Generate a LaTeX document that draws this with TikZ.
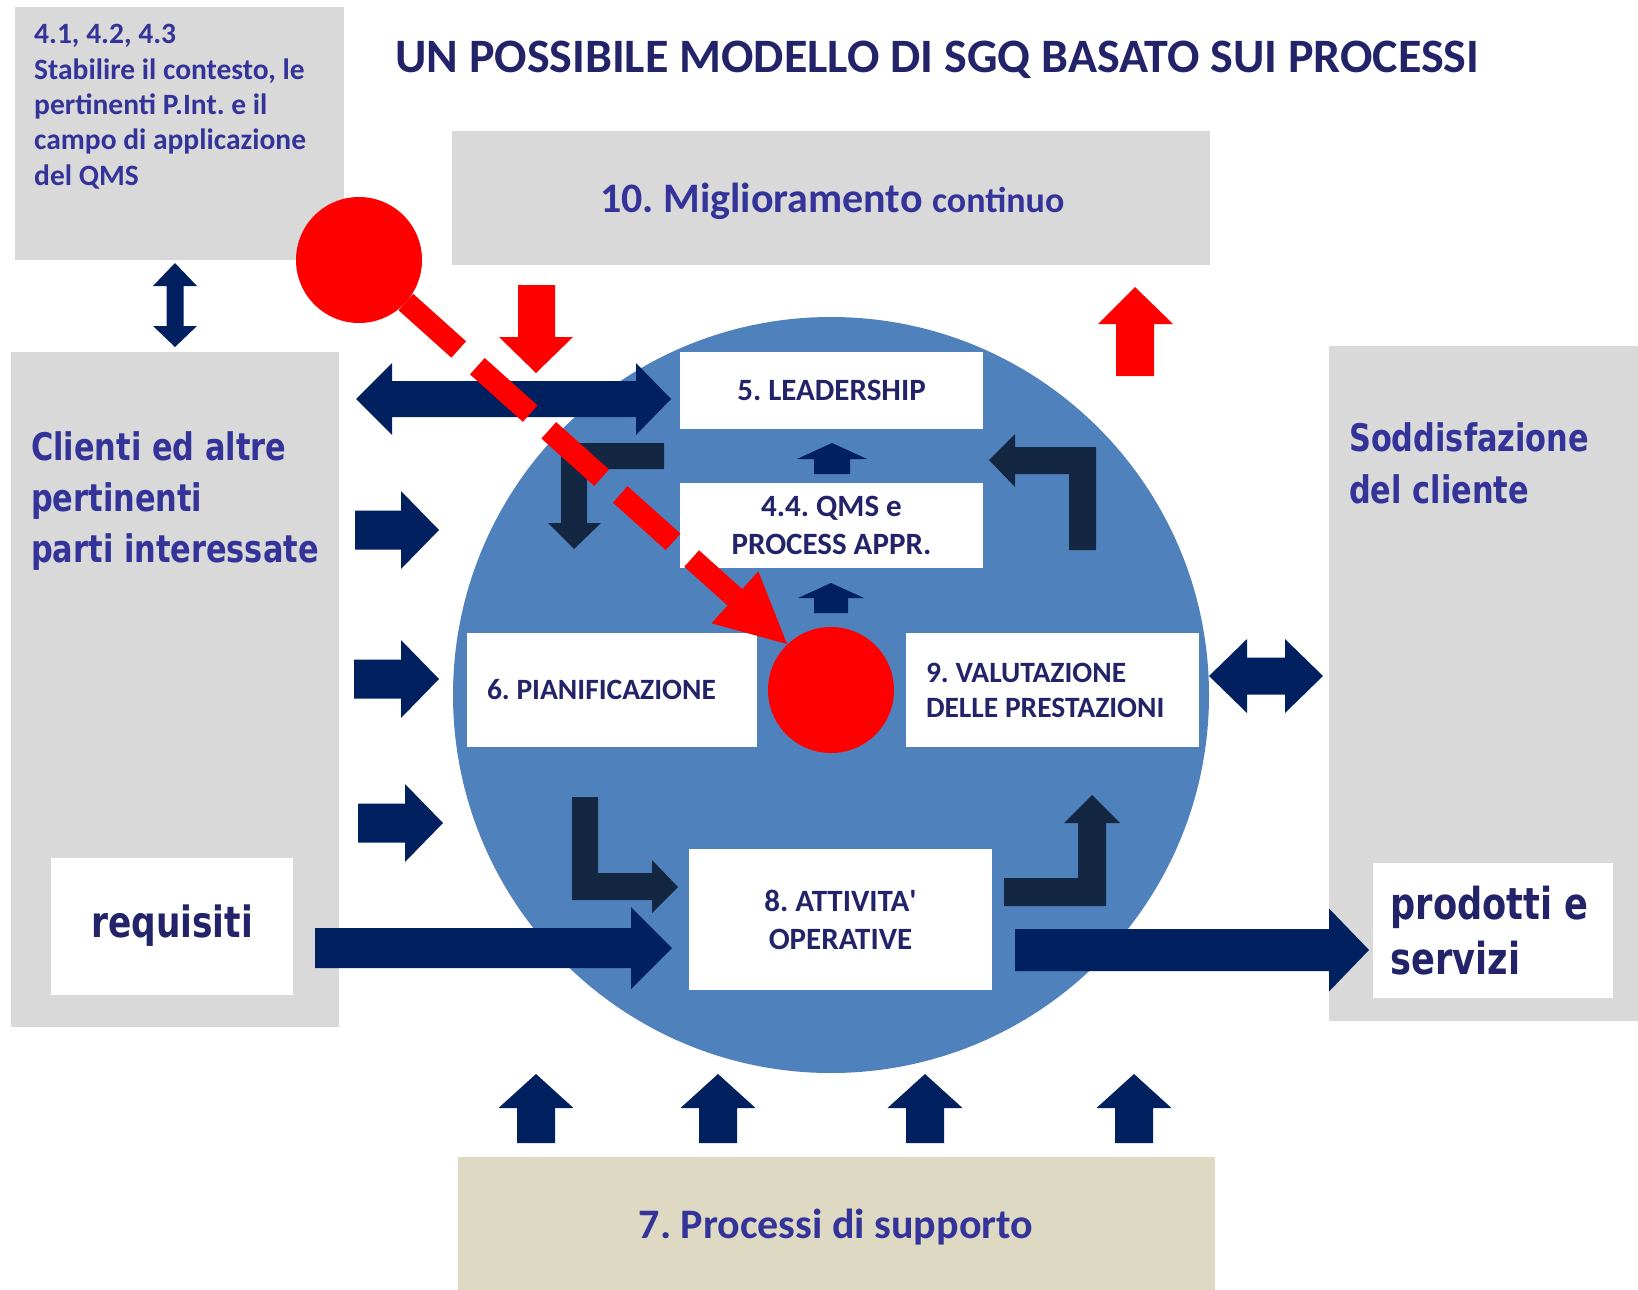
\documentclass[tikz,border=0pt]{standalone}
\usepackage{fontspec}
\setmainfont{Carlito}
\newfontfamily\tahomafont[FakeStretch=0.8]{DejaVu Sans}
\usepackage{xcolor}

\definecolor{boxgray}{HTML}{D9D9D9}
\definecolor{boxtan}{HTML}{DDD9C3}
\definecolor{circblue}{HTML}{4F81BD}
\definecolor{navy}{HTML}{002060}
\definecolor{darknavy}{HTML}{142742}
\definecolor{txtblue}{HTML}{333399}
\definecolor{txtdark}{HTML}{23236A}

\tikzset{
  graybox/.style={fill=boxgray, inner sep=0pt},
  whitebox/.style={fill=white, inner sep=0pt, text=txtdark, align=center,
    font=\bfseries\fontsize{31}{38}\selectfont},
  navyarrow/.style={fill=navy},
  darkarrow/.style={fill=darknavy},
  redarrow/.style={fill=red},
  label/.style={inner sep=0pt, anchor=base west, align=flush left}
}

\begin{document}
\frenchspacing
\begin{tikzpicture}[x=1pt, y=-1pt]

  \useasboundingbox (0,0) rectangle (1638,1290);

  % grey and tan panels
  \node[graybox, minimum width=329, minimum height=253] (ctx) at (179.5,133.5) {};
  \node[graybox, minimum width=328, minimum height=675] (clienti) at (175,689.5) {};
  \node[graybox, minimum width=309, minimum height=675] (soddisf) at (1483.5,683.5) {};
  \node[graybox, minimum width=758, minimum height=134] (migl) at (831,198) {};
  \node[fill=boxtan, minimum width=757, minimum height=133, inner sep=0pt] (supp) at (836.5,1223.5) {};

  % the process circle
  \fill[circblue] (831,695) circle (378pt);

  % white boxes
  \node[whitebox, minimum width=303, minimum height=77] (lead) at (831.5,390.5) {5. LEADERSHIP};
  \node[whitebox, minimum width=303, minimum height=85] (qms) at (831.5,525.5) {4.4. QMS e\\PROCESS APPR.};
  \node[whitebox, minimum width=290, minimum height=114, text width=250, inner xsep=20pt, align=flush left,
        font=\bfseries\fontsize{29.5}{35}\selectfont] (pian) at (612,690) {6. PIANIFICAZIONE};
  \node[whitebox, minimum width=293, minimum height=114, text width=253, inner xsep=20pt, align=flush left,
        font=\bfseries\fontsize{29.5}{35}\selectfont] (valut) at (1052.5,690) {9. VALUTAZIONE\\DELLE PRESTAZIONI};
  \node[whitebox, minimum width=303, minimum height=141] (oper) at (840.5,919.5) {8. ATTIVITA\textquotesingle\\OPERATIVE};
  \node[whitebox, minimum width=242, minimum height=137, font=\tahomafont\bfseries\fontsize{43}{50}\selectfont]
        (req) at (172,926) {requisiti};
  \node[whitebox, minimum width=240, minimum height=135, text width=205, inner xsep=17.5pt, align=flush left,
        font=\tahomafont\bfseries\fontsize{44}{55}\selectfont] (prod) at (1493,930.5) {prodotti e\\servizi};

  % navy block arrows
  \fill[navyarrow] (175,263) -- (197,286) -- (183.5,286) -- (183.5,326) -- (197,326) -- (175,347)
                   -- (153,326) -- (166.5,326) -- (166.5,286) -- (153,286) -- cycle;
  \fill[navyarrow] (356,399) -- (392,363) -- (392,381) -- (636,381) -- (636,363) -- (671,399)
                   -- (636,435) -- (636,417) -- (392,417) -- (392,435) -- cycle;
  \fill[navyarrow] (355,510.5) -- (401,510.5) -- (401,491) -- (439,530) -- (401,569) -- (401,549.5) -- (355,549.5) -- cycle;
  \fill[navyarrow] (354,659.5) -- (401,659.5) -- (401,640) -- (439,679) -- (401,718) -- (401,698.5) -- (354,698.5) -- cycle;
  \fill[navyarrow] (358,803.5) -- (405,803.5) -- (405,784) -- (443,823) -- (405,862) -- (405,842.5) -- (358,842.5) -- cycle;
  \fill[navyarrow] (315,928) -- (631,928) -- (631,907) -- (672,948) -- (631,989) -- (631,968) -- (315,968) -- cycle;
  \fill[navyarrow] (1015,929) -- (1329,929) -- (1329,908.5) -- (1369,950) -- (1329,991.5) -- (1329,971) -- (1015,971) -- cycle;
  \fill[navyarrow] (1209,676) -- (1247,639) -- (1247,657.5) -- (1285,657.5) -- (1285,639) -- (1323,676)
                   -- (1285,713) -- (1285,694.5) -- (1247,694.5) -- (1247,713) -- cycle;
  \fill[navyarrow] (832,443) -- ++(35,16) -- ++(-17,0) -- ++(0,15) -- ++(-36,0) -- ++(0,-15) -- ++(-17,0) -- cycle;
  \fill[navyarrow] (831,583) -- ++(33,15) -- ++(-16,0) -- ++(0,15) -- ++(-34,0) -- ++(0,-15) -- ++(-16,0) -- cycle;

  % support arrows
  \fill[navyarrow] (536,1074) -- ++(37.5,34) -- ++(-18.5,0) -- ++(0,35) -- ++(-38,0) -- ++(0,-35) -- ++(-18.5,0) -- cycle;
  \fill[navyarrow] (718,1074) -- ++(37.5,34) -- ++(-18.5,0) -- ++(0,35) -- ++(-38,0) -- ++(0,-35) -- ++(-18.5,0) -- cycle;
  \fill[navyarrow] (925,1074) -- ++(37.5,34) -- ++(-18.5,0) -- ++(0,35) -- ++(-38,0) -- ++(0,-35) -- ++(-18.5,0) -- cycle;
  \fill[navyarrow] (1134,1074) -- ++(37.5,34) -- ++(-18.5,0) -- ++(0,35) -- ++(-38,0) -- ++(0,-35) -- ++(-18.5,0) -- cycle;

  % bent arrows inside the circle
  \fill[darkarrow] (664,443) -- (561,443) -- (561,523) -- (548,523) -- (574,549) -- (601,523)
                   -- (587,523) -- (587,469) -- (664,469) -- cycle;
  \fill[darkarrow] (989,460) -- (1015,434) -- (1015,447) -- (1096,447) -- (1096,550) -- (1069,550)
                   -- (1069,474) -- (1015,474) -- (1015,487) -- cycle;
  \fill[darkarrow] (572,797) -- (598,797) -- (598,873) -- (652,873) -- (652,860) -- (678,887)
                   -- (652,913) -- (652,900) -- (572,900) -- cycle;
  \fill[darkarrow] (1004,878) -- (1078,878) -- (1078,823) -- (1064,823) -- (1092,795) -- (1120,823)
                   -- (1106,823) -- (1106,906) -- (1004,906) -- cycle;

  % red marks
  \fill[redarrow] (518,285) -- (555,285) -- (555,337) -- (573,337) -- (536,373) -- (499,337) -- (518,337) -- cycle;
  \fill[redarrow] (1135,287) -- (1173,324) -- (1154,324) -- (1154,376) -- (1116,376) -- (1116,324) -- (1098,324) -- cycle;

  \coordinate (lens) at (359,260);
  \coordinate (spot) at (831,690);
  \coordinate (headbase) at (734.9,597.3);
  \coordinate (tip) at (787,644);
  \draw[red, line width=22pt, dash pattern=on 71pt off 25pt, dash phase=33pt] (lens) -- (headbase);
  \fill[red] (711.5,623.3) -- (tip) -- (758.3,571.3) -- cycle;
  \fill[red] (lens) circle (63pt);
  \fill[red] (spot) circle (63pt);

  % texts
  \node[label, text=txtdark, font=\bfseries\fontsize{48}{56}\selectfont] (title) at (395,72)
       {UN POSSIBILE MODELLO DI SGQ BASATO SUI PROCESSI};
  \node[label, text width=310, text=txtblue, font=\bfseries\fontsize{29.5}{35.3}\selectfont] (ctxtxt) at (34,44)
       {4.1, 4.2, 4.3\\Stabilire il contesto, le\\pertinenti P.Int. e il\\campo di applicazione\\del QMS};
  \node[label, text=txtblue, font=\bfseries\fontsize{42}{50}\selectfont] (migltxt) at (600,212)
       {10. Miglioramento {\fontsize{36}{43}\selectfont continuo}};
  \node[label, text width=305, text=txtblue, font=\tahomafont\bfseries\fontsize{38}{51}\selectfont] (clientitxt) at (31,460)
       {Clienti ed altre\\pertinenti\\parti interessate};
  \node[label, text width=285, text=txtblue, font=\tahomafont\bfseries\fontsize{38}{52}\selectfont] (soddisftxt) at (1349,451)
       {Soddisfazione\\del cliente};
  \node[inner sep=0pt, anchor=base, text=txtblue, font=\bfseries\fontsize{42}{50}\selectfont] (supptxt) at (836,1238)
       {7. Processi di supporto};

\end{tikzpicture}
\end{document}
